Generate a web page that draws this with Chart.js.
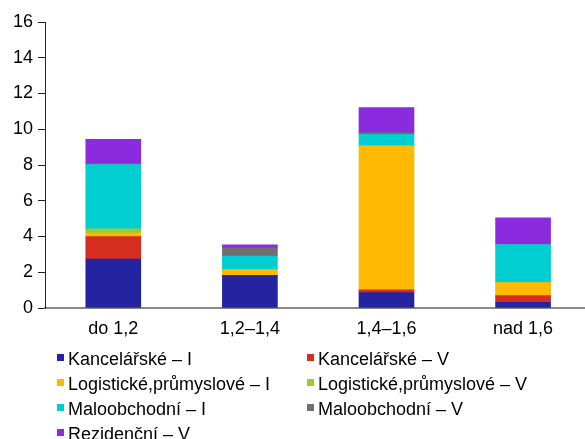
<!DOCTYPE html>
<html>
<head>
<meta charset="utf-8">
<script src="https://cdn.jsdelivr.net/npm/chart.js@4/dist/chart.umd.min.js"></script>
<style>
  html, body { margin: 0; padding: 0; background: #fff; }
  #wrap { position: relative; width: 585px; height: 439px; overflow: hidden; }
  #chart { position: absolute; left: 0; top: 0; }
  .lg { position: absolute; font: 18px "Liberation Sans", Arial, sans-serif; line-height: 21px; color: #000; white-space: nowrap; }
  .lg i { position: absolute; width: 7px; height: 7px; top: 5px; }
  .lg span { position: absolute; }
</style>
</head>
<body>
<div id="wrap">
  <canvas id="chart" width="585" height="439"></canvas>
  <div id="legend"></div>
</div>
<script>
// Categories (x axis)
const categories = ['do 1,2', '1,2\u20131,4', '1,4\u20131,6', 'nad 1,6'];

// Series values per category
const kancelarskeI   = [2.74, 1.81, 0.86, 0.32];
const kancelarskeV   = [1.25, 0.02, 0.16, 0.37];
const logistickeI    = [0.20, 0.32, 8.04, 0.73];
const logistickeV    = [0.24, 0.00, 0.02, 0.00];
const maloobchodniI  = [3.60, 0.76, 0.64, 2.13];
const maloobchodniV  = [0.03, 0.45, 0.09, 0.00];
const rezidencniV    = [1.38, 0.18, 1.40, 1.49];

// Y axis ticks
const yTicks = [0, 2, 4, 6, 8, 10, 12, 14, 16];

const seriesLabels = [
  'Kancelářské – I', 'Kancelářské – V',
  'Logistické,průmyslové – I', 'Logistické,průmyslové – V',
  'Maloobchodní – I', 'Maloobchodní – V',
  'Rezidenční – V'
];
const seriesValues = [kancelarskeI, kancelarskeV, logistickeI, logistickeV, maloobchodniI, maloobchodniV, rezidencniV];
const seriesColors = ['#2424A0', '#D52D20', '#FFB900', '#9ACD32', '#00CED1', '#6E6F71', '#8A2BE0'];

const datasets = seriesLabels.map((label, k) => ({
  label,
  data: seriesValues[k].map((v, i) => ({ x: i, y: v })),
  backgroundColor: seriesColors[k],
  borderWidth: 0,
  barThickness: 55
}));

const FONT = '"Liberation Sans", Arial, sans-serif';

new Chart(document.getElementById('chart'), {
  type: 'bar',
  data: { datasets },
  options: {
    responsive: false,
    animation: false,
    devicePixelRatio: 1,
    layout: { padding: { top: 22, right: 1, bottom: 0, left: 0 } },
    plugins: { legend: { display: false }, tooltip: { enabled: false } },
    scales: {
      x: {
        type: 'linear',
        stacked: true,
        offset: false,
        min: -0.5,
        max: 3.446,
        grid: { display: false, drawTicks: false },
        border: { display: true, color: '#8a8a8a', width: 2 },
        ticks: {
          padding: 10,
          color: '#000',
          font: { family: FONT, size: 18 },
          callback: (v) => categories[v] ?? ''
        },
        afterBuildTicks: (s) => { s.ticks = categories.map((_, i) => ({ value: i })); },
        afterFit: (s) => { s.height = 131; }
      },
      y: {
        stacked: true,
        min: 0,
        max: 16,
        afterBuildTicks: (s) => { s.ticks = yTicks.map(v => ({ value: v })); },
        grid: { drawOnChartArea: false, drawTicks: true, tickLength: 7, color: '#222', lineWidth: 1 },
        border: { display: true, color: '#222', width: 1 },
        ticks: {
          padding: 5,
          color: '#000',
          font: { family: FONT, size: 18 }
        },
        afterFit: (s) => { s.width = 45; }
      }
    }
  }
});

// Two-column legend below the plot
const legend = document.getElementById('legend');
seriesLabels.forEach((label, k) => {
  const col = k % 2, row = Math.floor(k / 2);
  const item = document.createElement('div');
  item.className = 'lg';
  item.style.left = (col === 0 ? 57 : 307) + 'px';
  item.style.top = (349 + row * 25) + 'px';
  const box = document.createElement('i');
  box.style.left = '0px';
  box.style.background = seriesColors[k];
  const txt = document.createElement('span');
  txt.style.left = '11px';
  txt.textContent = label;
  item.appendChild(box);
  item.appendChild(txt);
  legend.appendChild(item);
});
</script>
</body>
</html>
